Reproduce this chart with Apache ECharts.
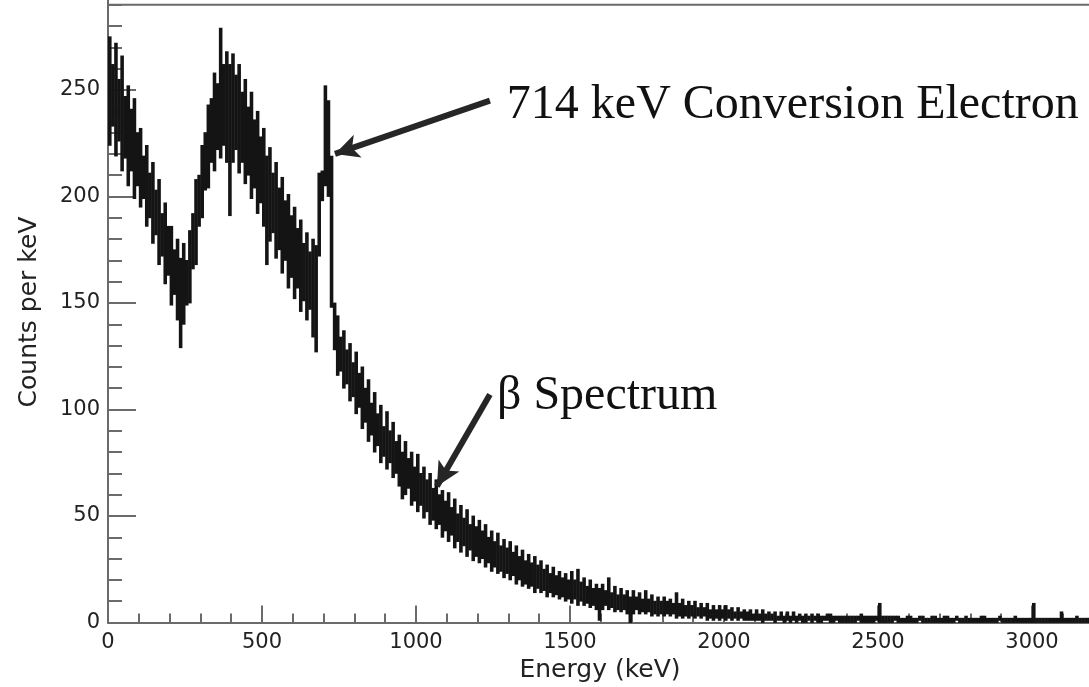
<!DOCTYPE html>
<html>
<head>
<meta charset="utf-8">
<script src="https://cdn.jsdelivr.net/npm/echarts/dist/echarts.min.js"></script>
<style>
  html, body { margin: 0; padding: 0; background: #fff; }
  #chart { width: 1089px; height: 687px; }
</style>
</head>
<body>
<div id="chart"></div>
<script>
// Energy spectrum in 10 keV slices starting at 0 keV: the lowest and highest
// counts-per-keV values reached inside each slice (1 keV channels scatter between them)
const sliceKeV = 10;
const countsHigh = [
  275, 262, 272, 255, 266, 247, 252, 241, 246, 230,   // 0-90
  232, 219, 224, 211, 216, 203, 208, 192, 197, 186,   // 100-190
  186, 175, 180, 171, 178, 170, 184, 192, 208, 210,   // 200-290
  224, 230, 243, 246, 258, 253, 279, 262, 268, 262,   // 300-390
  267, 257, 262, 249, 255, 242, 249, 236, 240, 228,   // 400-490
  232, 219, 223, 211, 216, 204, 209, 198, 201, 191,   // 500-590
  195, 185, 189, 178, 183, 174, 180, 177, 211, 212,   // 600-690
  252, 245, 219, 150, 144, 134, 137, 128, 131, 122,   // 700-790
  127, 117, 120, 110, 114, 103, 108,  98, 102,  92,   // 800-890
   99,  90,  94,  85,  88,  80,  85,  77,  80,  73,   // 900-990
   79,  70,  73,  67,  70,  63,  67,  60,  62,  57,   // 1000-1090
   61,  54,  58,  51,  55,  49,  53,  46,  50,  45,   // 1100-1190
   48,  43,  46,  40,  43,  38,  42,  36,  39,  35,   // 1200-1290
   38,  33,  36,  31,  34,  29,  32,  28,  31,  27,   // 1300-1390
   29,  25,  27,  23,  26,  22,  24,  21,  23,  20,   // 1400-1490
   24,  20,  25,  19,  21,  17,  20,  16,  18,  16,   // 1500-1590
   18,  15,  21,  14,  17,  13,  16,  13,  15,  12,   // 1600-1690
   15,  12,  14,  11,  15,  11,  13,  10,  12,  10,   // 1700-1790
   12,  10,  11,   9,  14,   9,  11,   8,  10,   8,   // 1800-1890
   10,   7,   9,   7,   9,   6,   8,   6,   8,   6,   // 1900-1990
    8,   6,   7,   5,   7,   5,   6,   5,   6,   4,   // 2000-2090
    6,   4,   6,   4,   5,   4,   5,   3,   5,   3,   // 2100-2190
    5,   3,   5,   3,   4,   3,   4,   3,   4,   3,   // 2200-2290
    4,   3,   3,   4,   4,   3,   3,   3,   3,   3,   // 2300-2390
    3,   3,   3,   3,   4,   3,   3,   3,   3,   3,   // 2400-2490
    9,   3,   3,   3,   3,   3,   3,   2,   2,   3,   // 2500-2590
    3,   2,   2,   3,   3,   2,   2,   3,   3,   2,   // 2600-2690
    2,   3,   3,   2,   2,   3,   2,   2,   3,   2,   // 2700-2790
    2,   2,   2,   3,   3,   2,   2,   2,   2,   3,   // 2800-2890
    2,   2,   2,   2,   3,   2,   2,   2,   2,   2,   // 2900-2990
    9,   2,   2,   2,   2,   2,   2,   2,   2,   5,   // 3000-3090
    2,   2,   2,   2,   3,   2,   2,   2,   2,   2    // 3100-3190
];
const countsLow = [
  224, 233, 219, 226, 212, 218, 205, 212, 199, 205,   // 0-90
  195, 199, 186, 190, 178, 182, 168, 172, 159, 163,   // 100-190
  149, 154, 142, 129, 140, 149, 150, 166, 168, 186,   // 200-290
  190, 203, 204, 216, 212, 222, 218, 224, 216, 191,   // 300-390
  216, 222, 211, 216, 206, 210, 199, 204, 192, 197,   // 400-490
  186, 168, 179, 183, 171, 175, 164, 170, 157, 162,   // 500-590
  152, 157, 146, 151, 142, 147, 134, 127, 172, 198,   // 600-690
  205, 200, 148, 128, 116, 118, 110, 112, 104, 106,   // 700-790
   98, 101,  91,  94,  85,  88,  80,  83,  75,  78,   // 800-890
   72,  75,  68,  70,  64,  58,  60,  63,  55,  57,   // 900-990
   52,  55,  49,  52,  46,  48,  44,  46,  40,  43,   // 1000-1090
   38,  41,  35,  38,  33,  36,  31,  34,  29,  31,   // 1100-1190
   28,  30,  26,  28,  24,  26,  23,  24,  21,  23,   // 1200-1290
   20,  22,  18,  20,  17,  18,  16,  17,  14,  16,   // 1300-1390
   14,  15,  12,  14,  12,  13,  11,  12,  10,  11,   // 1400-1490
    9,  11,   8,  10,   8,   9,   7,   8,   6,   1,   // 1500-1590
    6,   8,   6,   7,   5,   6,   5,   6,   4,   0,   // 1600-1690
    4,   6,   4,   5,   4,   5,   3,   4,   3,   4,   // 1700-1790
    3,   4,   3,   4,   2,   3,   2,   3,   2,   3,   // 1800-1890
    2,   3,   2,   3,   1,   2,   1,   2,   1,   2,   // 1900-1990
    1,   2,   1,   2,   1,   2,   1,   1,   1,   1,   // 2000-2090
    1,   1,   0,   1,   1,   1,   0,   1,   1,   0,   // 2100-2190
    1,   0,   1,   0,   1,   0,   0,   1,   0,   1,   // 2200-2290
    0,   0,   1,   1,   0,   0,   1,   0,   0,   0,   // 2300-2390
    0,   0,   0,   1,   0,   0,   0,   0,   0,   1,   // 2400-2490
    0,   0,   0,   0,   0,   1,   0,   0,   0,   0,   // 2500-2590
    0,   0,   0,   1,   0,   0,   0,   0,   0,   0,   // 2600-2690
    0,   0,   0,   0,   0,   1,   0,   0,   0,   0,   // 2700-2790
    0,   0,   0,   0,   0,   0,   0,   0,   0,   1,   // 2800-2890
    0,   0,   0,   0,   0,   0,   0,   0,   0,   0,   // 2900-2990
    0,   0,   0,   0,   0,   0,   0,   0,   0,   0,   // 3000-3090
    0,   0,   0,   0,   0,   0,   0,   0,   0,   0    // 3100-3190
];

// Axis ranges and tick spacing
const xRange = [0, 3500];
const yRange = [0, 300];
const frameTop = 290;
const xMajor = 500, yMajor = 50;

// Annotations: text anchor and arrow [tail, tip] in data coordinates (keV, counts)
const notes = [
  { text: '714 keV Conversion Electron', at: [1295, 243], tail: [1240, 245], tip: [737, 220] },
  { text: '\u03B2 Spectrum',             at: [1263, 106], tail: [1240, 107], tip: [1068, 64] }
];

// [slice centre, low, high]
const slices = countsHigh.map((hi, i) => [i * sliceKeV + sliceKeV / 2, countsLow[i], hi]);

const axisGrey = '#6a6a6a';
const labelFont = { fontFamily: 'DejaVu Sans', fontSize: 21, color: '#222' };

const chart = echarts.init(document.getElementById('chart'), null, { renderer: 'canvas' });

// Each slice is a filled bar spanning its low..high counts
function renderSlice(params, api) {
  const x = api.value(0), lo = api.value(1), hi = api.value(2);
  const topLeft = api.coord([x - sliceKeV / 2, hi]);
  const botRight = api.coord([x + sliceKeV / 2, lo]);
  const h = Math.max(botRight[1] - topLeft[1], 1.6);
  return {
    type: 'rect',
    shape: { x: topLeft[0], y: topLeft[1] - 0.4, width: botRight[0] - topLeft[0] + 0.5, height: h + 0.8 },
    style: { fill: '#141414' }
  };
}

const option = {
  animation: false,
  backgroundColor: '#ffffff',
  grid: {
    left: 108, top: -16.5, width: 1078, height: 639,
    containLabel: false,
    outerBoundsMode: 'none'
  },
  xAxis: {
    type: 'value',
    min: xRange[0], max: xRange[1], interval: xMajor,
    name: 'Energy (keV)',
    nameLocation: 'middle',
    nameGap: 34,
    nameTextStyle: { fontFamily: 'DejaVu Sans', fontSize: 25, color: '#222', padding: [0, 94, 0, 0] },
    axisLine: { show: true, lineStyle: { color: axisGrey, width: 2 } },
    axisTick: { show: true, inside: true, length: 17, lineStyle: { color: axisGrey, width: 2 } },
    minorTick: { show: true, splitNumber: 5, length: 9, lineStyle: { color: axisGrey, width: 2 } },
    axisLabel: Object.assign({ margin: 10, showMaxLabel: false, formatter: v => String(v) }, labelFont),
    splitLine: { show: false }
  },
  yAxis: {
    type: 'value',
    min: yRange[0], max: yRange[1], interval: yMajor,
    name: 'Counts per keV',
    nameLocation: 'middle',
    nameGap: 66,
    nameRotate: 90,
    nameTextStyle: { fontFamily: 'DejaVu Sans', fontSize: 25, color: '#222', padding: [0, 18, 0, 0] },
    axisLine: { show: true, lineStyle: { color: axisGrey, width: 2 } },
    axisTick: { show: true, inside: true, length: 28, lineStyle: { color: axisGrey, width: 2 } },
    minorTick: { show: true, splitNumber: 5, length: 14, lineStyle: { color: axisGrey, width: 2 } },
    axisLabel: Object.assign({ margin: 8, showMaxLabel: false, formatter: v => String(v) }, labelFont),
    splitLine: { show: false }
  },
  series: [
    {
      type: 'custom',
      name: 'spectrum',
      data: slices,
      encode: { x: 0, y: [1, 2] },
      renderItem: renderSlice,
      z: 3
    },
    {
      type: 'line',
      name: 'arrows',
      data: [],
      z: 4,
      markLine: {
        silent: true,
        symbol: ['none', 'arrow'],
        symbolSize: [18, 24],
        label: { show: false },
        lineStyle: { color: '#262626', width: 6, type: 'solid' },
        data: notes.map(n => [{ coord: n.tail }, { coord: n.tip }])
      }
    }
  ]
};

chart.setOption(option);

// Top frame line and annotation texts, placed through the grid's coordinate system
const frameL = chart.convertToPixel({ gridIndex: 0 }, [xRange[0], frameTop]);
const frameR = chart.convertToPixel({ gridIndex: 0 }, [xRange[1], frameTop]);
const graphics = [{
  type: 'line',
  shape: { x1: frameL[0], y1: frameL[1], x2: frameR[0], y2: frameR[1] },
  style: { stroke: axisGrey, lineWidth: 2 },
  z: 10
}];
notes.forEach(n => {
  const p = chart.convertToPixel({ gridIndex: 0 }, n.at);
  graphics.push({
    type: 'text',
    x: p[0], y: p[1],
    z: 10,
    style: {
      text: n.text,
      fill: '#111',
      font: '48px "Liberation Serif", "Times New Roman", serif',
      align: 'left',
      verticalAlign: 'middle'
    }
  });
});
chart.setOption({ graphic: graphics });
</script>
</body>
</html>
